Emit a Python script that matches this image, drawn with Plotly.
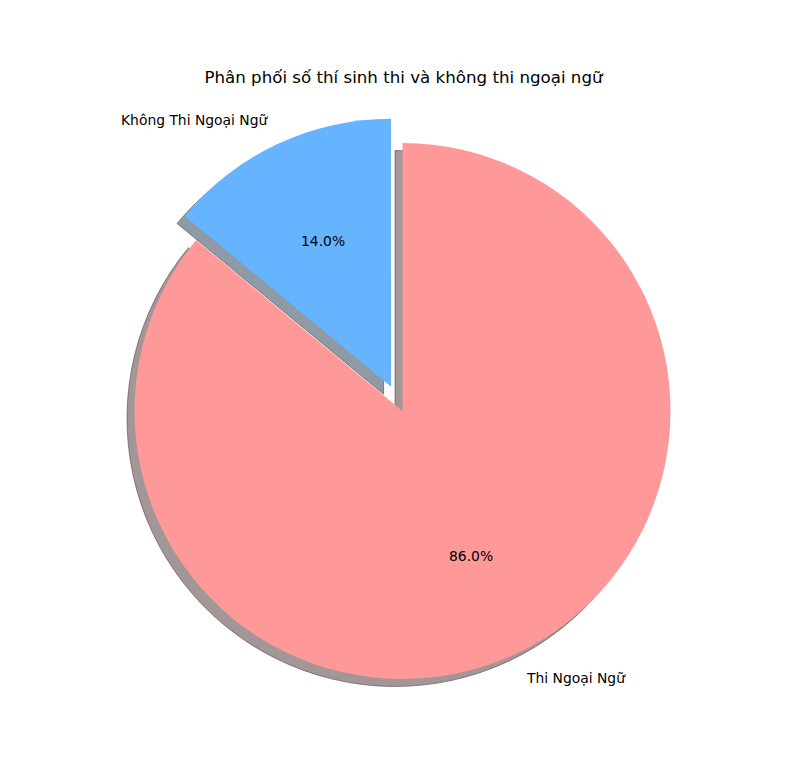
import math
import plotly.graph_objects as go

labels = ["Không Thi Ngoại Ngữ", "Thi Ngoại Ngữ"]
values = [14.0, 86.0]
colors = ["#66b3ff", "#ff9999"]
shadow_colors = ["#8e9ba6", "#a39696"]
pulls = [0.1, 0.0]
title = "Phân phối số thí sinh thi và không thi ngoại ngữ"

W, H = 792, 765
cx, cy = 402.5, 411.0   # pie centre in px (from top)
R = 268.0               # pie radius in px
box = R * (2 + 2 * max(pulls))
sh = 7.5                # shadow offset px

def domain(px, py):
    return dict(x=[(px - box / 2) / W, (px + box / 2) / W],
                y=[1 - (py + box / 2) / H, 1 - (py - box / 2) / H])

total = sum(values)
# plotly places the first counterclockwise slice ending at 'rotation';
# shift so the first slice starts at 12 o'clock going counterclockwise
rot = -360.0 * values[0] / total

font = "DejaVu Sans"
DIR = "counterclockwise"
fig = go.Figure()
fig.add_trace(go.Pie(labels=labels, values=values, sort=False, direction=DIR,
                     rotation=rot, pull=pulls, domain=domain(cx - sh, cy + sh),
                     marker=dict(colors=shadow_colors, line=dict(color="rgba(90,70,70,0.6)", width=1)),
                     textinfo="none", hoverinfo="skip", showlegend=False))
fig.add_trace(go.Pie(labels=labels, values=values, sort=False, direction=DIR,
                     rotation=rot, pull=pulls, domain=domain(cx, cy),
                     marker=dict(colors=colors, line=dict(width=0)),
                     textinfo="none", showlegend=False))

start = 90.0
for lab, v, p in zip(labels, values, pulls):
    span = 360.0 * v / total
    mid = math.radians(start + span / 2)
    start += span
    ox = cx + p * R * math.cos(mid)
    oy = cy - p * R * math.sin(mid)
    # percent label at 0.6 R
    px = ox + 0.6 * R * math.cos(mid)
    py = oy - 0.6 * R * math.sin(mid)
    fig.add_annotation(x=px / W, y=1 - py / H, xref="paper", yref="paper",
                       text=f"{100 * v / total:.1f}%", showarrow=False,
                       xanchor="center", yanchor="middle",
                       font=dict(family=font, size=13.89, color="black"))
    lx = ox + 1.1 * R * math.cos(mid)
    ly = oy - 1.1 * R * math.sin(mid)
    left_side = math.cos(mid) < 0
    fig.add_annotation(x=lx / W, y=1 - ly / H, xref="paper", yref="paper",
                       text=lab, showarrow=False, xshift=5 if left_side else -4,
                       xanchor="right" if left_side else "left", yanchor="middle",
                       font=dict(family=font, size=13.89, color="black"))

fig.update_layout(width=W, height=H, margin=dict(l=0, r=0, t=0, b=0),
                  paper_bgcolor="white", plot_bgcolor="white",
                  title=dict(text=title, x=403.5 / W, xanchor="center", y=1 - 77 / H, yanchor="middle",
                             font=dict(family=font, size=16.67, color="black")))
fig.write_html("out.html")
